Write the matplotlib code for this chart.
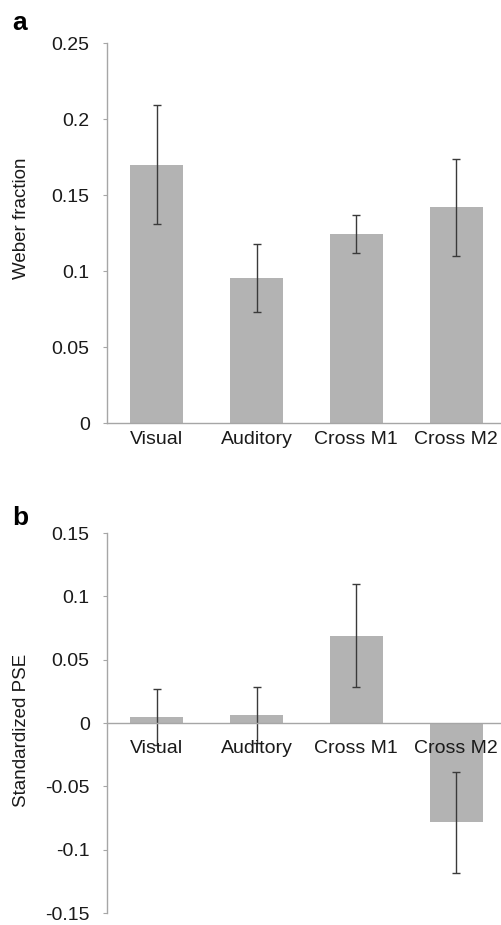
import matplotlib
matplotlib.use("Agg")
import matplotlib.pyplot as plt
import numpy as np

plt.rcParams['font.family'] = ['Liberation Sans', 'DejaVu Sans']

categories = ["Visual", "Auditory", "Cross M1", "Cross M2"]

weber_values = [0.170, 0.0955, 0.1245, 0.142]
weber_errors = [0.039, 0.0225, 0.0125, 0.032]
weber_ticks = [0, 0.05, 0.1, 0.15, 0.2, 0.25]
weber_ticklabels = ["0", "0.05", "0.1", "0.15", "0.2", "0.25"]

pse_values = [0.005, 0.0065, 0.069, -0.0785]
pse_errors = [0.022, 0.022, 0.0405, 0.040]
pse_ticks = [-0.15, -0.1, -0.05, 0, 0.05, 0.1, 0.15]
pse_ticklabels = ["-0.15", "-0.1", "-0.05", "0", "0.05", "0.1", "0.15"]

W, H = 501, 925
fig = plt.figure(figsize=(W / 100, H / 100), dpi=100)

bar_color = "#b3b3b3"
axis_color = "#a6a6a6"
err_color = "#3a3a3a"
fs = 14


def make_axes(top_px, bottom_px):
    left = 107 / W
    width = (506 - 107) / W
    bottom = 1 - bottom_px / H
    height = (bottom_px - top_px) / H
    return fig.add_axes([left, bottom, width, height])


def style(ax, ticks, ticklabels, ylabel, xpad, zero_spine=False):
    for s in ['top', 'right']:
        ax.spines[s].set_visible(False)
    if zero_spine:
        ax.spines['bottom'].set_position(('data', 0))
    for s in ['left', 'bottom']:
        ax.spines[s].set_color(axis_color)
        ax.spines[s].set_linewidth(1.0)
    x = np.arange(len(categories))
    ax.set_xlim(-0.5, 3.5)
    ax.set_xticks(x)
    ax.set_xticklabels(categories, fontsize=fs, color="#1a1a1a")
    ax.tick_params(axis='x', length=0, pad=xpad)
    ax.set_yticks(ticks)
    ax.set_yticklabels(ticklabels, fontsize=fs, color="#1a1a1a")
    ax.tick_params(axis='y', length=3, width=0.8, color=axis_color, pad=9.5,
                   direction='out')
    ax.set_ylabel(ylabel, fontsize=13.5, color="#1a1a1a")


# Panel a
ax1 = make_axes(43, 423)
x = np.arange(len(categories))
ax1.bar(x, weber_values, width=0.53, color=bar_color, zorder=2)
ax1.errorbar(x, weber_values, yerr=weber_errors, fmt='none', ecolor=err_color,
             elinewidth=1.0, capsize=3, capthick=1.0, zorder=3)
ax1.set_ylim(0, 0.25)
style(ax1, weber_ticks, weber_ticklabels, "Weber fraction", 6)
ax1.yaxis.set_label_coords(-0.193, 0.54)

# Panel b
ax2 = make_axes(533, 913)
ax2.bar(x, pse_values, width=0.53, color=bar_color, zorder=2)
ax2.errorbar(x, pse_values, yerr=pse_errors, fmt='none', ecolor=err_color,
             elinewidth=1.0, capsize=3, capthick=1.0, zorder=3)
ax2.set_ylim(-0.15, 0.15)
style(ax2, pse_ticks, pse_ticklabels, "Standardized PSE", 12, zero_spine=True)
ax2.spines['bottom'].set_zorder(4)
ax2.xaxis.set_zorder(5)
ax2.yaxis.set_label_coords(-0.193, 0.48)

fig.text(12 / W, 1 - 30 / H, "a", fontsize=19, fontweight='bold', ha='left', va='baseline')
fig.text(12 / W, 1 - 525 / H, "b", fontsize=19, fontweight='bold', ha='left', va='baseline')

fig.savefig("out.png", dpi=100)
